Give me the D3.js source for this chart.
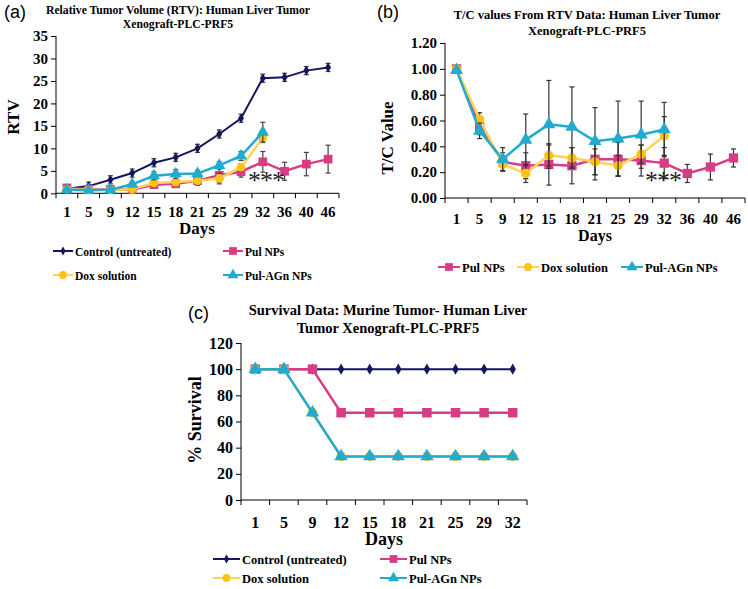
<!DOCTYPE html>
<html><head><meta charset="utf-8">
<script src="https://cdn.jsdelivr.net/npm/d3@7"></script>
<style>body{margin:0;background:#fff}</style>
</head><body>
<svg id="chart" width="748" height="589"></svg>
<script>
// ---------- DATA ----------
const daysA = ["1","5","9","12","15","18","21","25","29","32","36","40","46"];
const rtvControl    = [1.0, 1.6, 3.0, 4.5, 6.8, 8.0, 10.0, 13.2, 16.7, 25.6, 25.8, 27.3, 28.0];
const rtvControlErr = [0.3, 0.9, 0.9, 0.9, 0.9, 0.9, 0.9, 0.9, 0.9, 0.9, 0.9, 0.9, 0.9];
const rtvPul        = [1.2, 0.9, 0.9, 0.8, 1.9, 2.1, 2.8, 4.0, 4.8, 7.0, 4.9, 6.5, 7.6];
const rtvPulErr     = [0.3, 0.4, 0.4, 0.4, 0.5, 0.6, 0.8, 1.5, 1.2, 2.3, 2.0, 2.6, 3.1];
const rtvDox        = [0.9, 0.8, 0.8, 0.9, 2.3, 2.5, 2.8, 3.3, 5.8, 12.3];
const rtvDoxErr     = [0.2, 0.2, 0.2, 0.3, 0.5, 0.6, 1.0, 1.2, 0.8, 1.0];
const rtvAgn        = [0.8, 0.7, 0.8, 2.0, 3.9, 4.3, 4.4, 6.2, 8.3, 13.6];
const rtvAgnErr     = [0.2, 0.2, 0.2, 0.4, 0.9, 1.0, 0.7, 0.8, 1.0, 2.2];

const tcPul    = [1.00, 0.55, 0.28, 0.25, 0.26, 0.25, 0.30, 0.30, 0.29, 0.27, 0.19, 0.24, 0.31];
const tcPulErr = [0.00, 0.06, 0.07, 0.10, 0.16, 0.14, 0.16, 0.13, 0.12, 0.12, 0.07, 0.10, 0.07];
const tcDox    = [1.00, 0.61, 0.26, 0.19, 0.33, 0.31, 0.28, 0.25, 0.34, 0.48];
const tcDoxErr = [0.00, 0.05, 0.05, 0.07, 0.08, 0.08, 0.10, 0.08, 0.07, 0.15];
const tcAgn    = [0.99, 0.52, 0.30, 0.45, 0.57, 0.55, 0.44, 0.46, 0.49, 0.53];
const tcAgnErr = [0.00, 0.06, 0.09, 0.20, 0.34, 0.31, 0.26, 0.29, 0.26, 0.21];

const daysC = ["1","5","9","12","15","18","21","25","29","32"];
const survControl = [100,100,100,100,100,100,100,100,100,100];
const survPul     = [100,100,100,66.7,66.7,66.7,66.7,66.7,66.7,66.7];
const survDox     = [100,100,66.7,33.3,33.3,33.3,33.3,33.3,33.3,33.3];
const survAgn     = [100,100,66.7,33.3,33.3,33.3,33.3,33.3,33.3,33.3];

const ticksA = [0,5,10,15,20,25,30,35];
const ticksB = [0,0.2,0.4,0.6,0.8,1.0,1.2];
const ticksC = [0,20,40,60,80,100,120];

const nameControl = "Control (untreated)";
const namePul = "Pul NPs";
const nameDox = "Dox solution";
const nameAgn = "Pul-AGn NPs";

// ---------- STYLES ----------
const ST = {
  control: {color:"#16165c", line:"#16165c", sym:d3.symbolDiamond, size:30, w:2},
  pul:     {color:"#d73c84", line:"#d73c84", sym:d3.symbolSquare,  size:75, w:2.5},
  dox:     {color:"#fcc214", line:"#fdd35a", sym:d3.symbolCircle,  size:60, w:2.5},
  agn:     {color:"#22aacf", line:"#22aacf", sym:d3.symbolTriangle,size:65, w:2.5}
};
const SERIF = "'Liberation Serif','Times New Roman',serif";
const SANS = "'Liberation Sans',Arial,sans-serif";
const svg = d3.select("#chart");

function panel(o){
  const g = svg.append("g");
  const x = d3.scaleBand().domain(o.cats).range(o.xr);
  const y = d3.scaleLinear().domain(o.yd).range(o.yr);
  const cx = d => x(d) + x.bandwidth()/2;
  // axes
  const ya = d3.axisLeft(y).tickValues(o.yticks).tickFormat(o.fmt).tickSize(5).tickPadding(3);
  const yg = g.append("g").attr("transform",`translate(${o.xr[0]},0)`).call(ya);
  yg.selectAll("text").attr("font-family",SERIF).attr("font-weight","bold").attr("font-size",o.yfs).attr("fill","#000");
  yg.selectAll("line,path").attr("stroke","#000");
  yg.select("path").attr("d",`M0,${o.yr[0]}V${o.yr[1]}`);
  // x axis
  const xg = g.append("g");
  xg.append("line").attr("x1",o.xr[0]).attr("x2",o.xr[1]).attr("y1",o.yr[0]).attr("y2",o.yr[0]).attr("stroke","#000");
  const bounds = o.cats.map(c=>x(c)).concat([o.xr[1]]);
  xg.selectAll(".tk").data(bounds).join("line").attr("x1",d=>d).attr("x2",d=>d)
    .attr("y1",o.yr[0]).attr("y2",o.yr[0]+5).attr("stroke","#000");
  xg.selectAll(".lb").data(o.cats).join("text").attr("x",d=>cx(d)).attr("y",o.xly)
    .attr("text-anchor","middle").attr("font-family",SERIF).attr("font-weight","bold")
    .attr("font-size",o.xfs).text(d=>d);
  // axis titles
  g.append("text").attr("x",o.daysX).attr("y",o.daysY).attr("text-anchor","middle")
    .attr("font-family",SERIF).attr("font-weight","bold").attr("font-size",o.dfs||o.tfs).text("Days");
  g.append("text").attr("transform",`translate(${o.ylx},${o.yly}) rotate(-90)`).attr("text-anchor","middle")
    .attr("font-family",SERIF).attr("font-weight","bold").attr("font-size",o.tfs).text(o.ylabel);
  // title
  o.title.forEach((t,i)=>{
    g.append("text").attr("x",o.titleX).attr("y",o.titleY[i]).attr("text-anchor","middle")
      .attr("font-family",SERIF).attr("font-weight","bold").attr("font-size",o.titleFs).text(t);
  });
  g.append("text").attr("x",o.tag[0]).attr("y",o.tag[1]).attr("font-family",SANS)
    .attr("font-size",18).text(o.tag[2]);
  // series
  o.series.forEach(s=>{
    const st = ST[s.key];
    const pts = s.vals.map((v,i)=>({c:o.cats[i], v, e:s.err?s.err[i]:0}));
    const sg = g.append("g");
    if(s.err){
      pts.filter(p=>p.e>0).forEach(p=>{
        const X = cx(p.c), y1 = y(p.v+p.e), y2 = y(p.v-p.e);
        sg.append("line").attr("x1",X).attr("x2",X).attr("y1",y1).attr("y2",y2).attr("stroke",o.errColor).attr("stroke-width",1.2);
        [y1,y2].forEach(yy=>sg.append("line").attr("x1",X-2.5).attr("x2",X+2.5).attr("y1",yy).attr("y2",yy).attr("stroke",o.errColor).attr("stroke-width",1.2));
      });
    }
    sg.append("path").datum(pts).attr("fill","none").attr("stroke",st.line).attr("stroke-width",st.w)
      .attr("d",d3.line().x(p=>cx(p.c)).y(p=>y(p.v)));
    sg.selectAll("path.m").data(pts).join("path").attr("class","m")
      .attr("transform",p=>`translate(${cx(p.c)},${y(p.v)})`)
      .attr("d",d3.symbol().type(st.sym).size(st.size*o.ms)).attr("fill",st.color);
  });
  // legend
  o.legend.forEach(l=>{
    const st = ST[l.key];
    g.append("line").attr("x1",l.x).attr("x2",l.x+l.len).attr("y1",l.y).attr("y2",l.y).attr("stroke",st.line).attr("stroke-width",2);
    g.append("path").attr("transform",`translate(${l.x+l.len/2},${l.y})`)
      .attr("d",d3.symbol().type(st.sym).size(st.size*0.8)).attr("fill",st.color);
    g.append("text").attr("x",l.x+l.len+2).attr("y",l.y+4.5).attr("font-family",SERIF).attr("font-weight","bold")
      .attr("font-size",o.lfs).text(l.name);
  });
  // asterisks (single text run)
  if(o.stars){
    g.append("text").attr("x",o.stars.x).attr("y",o.stars.y).attr("font-family",SERIF)
      .attr("font-size",o.stars.fs).attr("letter-spacing",o.stars.ls).attr("fill","#222").text("***");
  }
}

// Panel (a)
panel({
  cats:daysA, xr:[56,339], yd:[0,35], yr:[193.3,36], yticks:ticksA, fmt:d3.format("d"),
  yfs:15, xfs:15, tfs:17, xly:217, daysX:197, daysY:234, ylabel:"RTV", ylx:19, yly:117,
  title:["Relative Tumor Volume (RTV): Human Liver Tumor","Xenograft-PLC-PRF5"], titleX:178, titleY:[14,28], titleFs:11.7,
  tag:[4,18,"(a)"], errColor:"#444", ms:1,
  series:[
    {key:"control", vals:rtvControl, err:rtvControlErr},
    {key:"pul", vals:rtvPul, err:rtvPulErr},
    {key:"dox", vals:rtvDox, err:rtvDoxErr},
    {key:"agn", vals:rtvAgn, err:rtvAgnErr}
  ],
  legend:[
    {key:"control", name:nameControl, x:53, y:251, len:20},
    {key:"pul", name:namePul, x:223, y:251, len:20},
    {key:"dox", name:nameDox, x:53, y:275, len:20},
    {key:"agn", name:nameAgn, x:223, y:275, len:20}
  ], lfs:11.5, stars:{x:248, y:189, fs:26, ls:-1}
});

// Panel (b)
panel({
  cats:daysA, xr:[445,745], yd:[0,1.2], yr:[198,43], yticks:ticksB, fmt:d3.format(".2f"),
  yfs:15, xfs:15, tfs:17, dfs:16, xly:224, daysX:595, daysY:241, ylabel:"T/C Value", ylx:393, yly:138,
  title:["T/C values From RTV Data: Human Liver Tumor","Xenograft-PLC-PRF5"], titleX:587, titleY:[19,35], titleFs:12.5,
  tag:[377,18,"(b)"], errColor:"#333", ms:1.15,
  series:[
    {key:"pul", vals:tcPul, err:tcPulErr},
    {key:"dox", vals:tcDox, err:tcDoxErr},
    {key:"agn", vals:tcAgn, err:tcAgnErr}
  ],
  legend:[
    {key:"pul", name:namePul, x:438, y:267, len:22},
    {key:"dox", name:nameDox, x:517, y:267, len:22},
    {key:"agn", name:nameAgn, x:621, y:267, len:22}
  ], lfs:12.5, stars:{x:645, y:189, fs:26, ls:-1}
});

// Panel (c)
panel({
  cats:daysC, xr:[241,527], yd:[0,120], yr:[500,343], yticks:ticksC, fmt:d3.format("d"),
  yfs:16, xfs:16, tfs:18, xly:528, daysX:384, daysY:545, ylabel:"% Survival", ylx:201, yly:420,
  title:["Survival Data: Murine Tumor- Human Liver","Tumor Xenograft-PLC-PRF5"], titleX:388, titleY:[315,333], titleFs:14.5,
  tag:[188,319,"(c)"], errColor:"#333", ms:1.2,
  series:[
    {key:"control", vals:survControl},
    {key:"pul", vals:survPul},
    {key:"dox", vals:survDox},
    {key:"agn", vals:survAgn}
  ],
  legend:[
    {key:"control", name:nameControl, x:213, y:559, len:27},
    {key:"pul", name:namePul, x:380, y:559, len:27},
    {key:"dox", name:nameDox, x:213, y:578, len:27},
    {key:"agn", name:nameAgn, x:380, y:578, len:27}
  ], lfs:12.5
});
</script>
</body></html>
